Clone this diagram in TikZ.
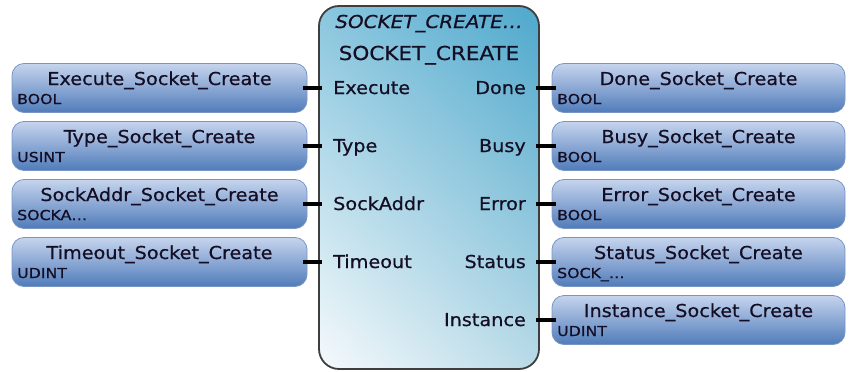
\documentclass[tikz,border=0pt]{standalone}
\usepackage{fontspec}
\setmainfont{DejaVu Sans}
\newfontfamily\namefont[FakeStretch=1.08,FakeBold=0.6]{DejaVu Sans}
\newfontfamily\typefont[FakeStretch=1.15,FakeBold=0.8]{DejaVu Sans}
\newfontfamily\headfont[FakeStretch=1.12,FakeBold=0.6]{DejaVu Sans}
\usetikzlibrary{positioning,shadings}
\definecolor{boxtop}{RGB}{198,212,238}
\definecolor{boxbot}{RGB}{80,124,186}
\definecolor{boxline}{RGB}{120,150,196}
\definecolor{txt}{RGB}{20,14,36}
\definecolor{fbline}{RGB}{62,62,62}

\begin{document}
\begin{tikzpicture}[x=1pt, y=-1pt,
  vbox/.style={draw=boxline, line width=0.8pt, rounded corners=12pt, top color=boxtop, bottom color=boxbot, minimum height=49pt, inner sep=0pt},
  vname/.style={anchor=base, text=txt, inner sep=0pt, font=\namefont\fontsize{17.8}{20}\selectfont},
  vtype/.style={anchor=base west, text=txt, inner sep=0pt, font=\typefont\fontsize{13.7}{15}\selectfont},
  pinl/.style={anchor=base west, text=txt, inner sep=0pt, font=\namefont\fontsize{17.8}{20}\selectfont},
  pinr/.style={anchor=base east, text=txt, inner sep=0pt, font=\namefont\fontsize{17.8}{20}\selectfont},
  wire/.style={line width=3.5pt, shorten <=-4pt, shorten >=-4pt}]
  \useasboundingbox (0,0) rectangle (849,372);

  % function block
  \node[draw=fbline, line width=1.8pt, rounded corners=20pt, minimum width=220pt, minimum height=363pt,
        shading=bilinear interpolation, upper right={rgb,255:red,78;green,168;blue,204},
        upper left={rgb,255:red,138;green,198;blue,222}, lower right={rgb,255:red,184;green,218;blue,231},
        lower left={rgb,255:red,246;green,250;blue,252}] (fb) at (429,187.5) {};
  \node[anchor=base, text=txt, inner sep=0pt, font=\headfont\itshape\fontsize{17.8}{20}\selectfont] (inst) at (429,28) {SOCKET\_CREATE…};
  \node[anchor=base, text=txt, inner sep=0pt, font=\headfont\fontsize{19.2}{22}\selectfont] (kind) at (429,60) {SOCKET\_CREATE};

  % inputs
  \node[vbox, minimum width=295pt] (iExec) at (159.5,88) {};
  \node[vbox, minimum width=295pt] (iType) at (159.5,146) {};
  \node[vbox, minimum width=295pt] (iAddr) at (159.5,204) {};
  \node[vbox, minimum width=295pt] (iTime) at (159.5,262) {};
  \node[vname] (nExec) at (159.5,85) {Execute\_Socket\_Create};
  \node[vname] (nType) at (159.5,143) {Type\_Socket\_Create};
  \node[vname] (nAddr) at (159.5,201) {SockAddr\_Socket\_Create};
  \node[vname] (nTime) at (159.5,259) {Timeout\_Socket\_Create};
  \node[vtype] (tExec) at (17,104) {BOOL};
  \node[vtype] (tType) at (17,162) {USINT};
  \node[vtype] (tAddr) at (17,220) {SOCKA…};
  \node[vtype] (tTime) at (17,278) {UDINT};
  \node[pinl] (pExec) at (333,94) {Execute};
  \node[pinl] (pType) at (333,152) {Type};
  \node[pinl] (pAddr) at (333,210) {SockAddr};
  \node[pinl] (pTime) at (333,268) {Timeout};

  % outputs
  \node[vbox, minimum width=293pt] (oDone) at (698.5,88) {};
  \node[vbox, minimum width=293pt] (oBusy) at (698.5,146) {};
  \node[vbox, minimum width=293pt] (oErr) at (698.5,204) {};
  \node[vbox, minimum width=293pt] (oStat) at (698.5,262) {};
  \node[vbox, minimum width=293pt] (oInst) at (698.5,320) {};
  \node[vname] (nDone) at (698.5,85) {Done\_Socket\_Create};
  \node[vname] (nBusy) at (698.5,143) {Busy\_Socket\_Create};
  \node[vname] (nErr) at (698.5,201) {Error\_Socket\_Create};
  \node[vname] (nStat) at (698.5,259) {Status\_Socket\_Create};
  \node[vname] (nInst) at (698.5,317) {Instance\_Socket\_Create};
  \node[vtype] (tDone) at (557,104) {BOOL};
  \node[vtype] (tBusy) at (557,162) {BOOL};
  \node[vtype] (tErr) at (557,220) {BOOL};
  \node[vtype] (tStat) at (557,278) {SOCK\_…};
  \node[vtype] (tInst) at (557,336) {UDINT};
  \node[pinr] (pDone) at (526,94) {Done};
  \node[pinr] (pBusy) at (526,152) {Busy};
  \node[pinr] (pErr) at (526,210) {Error};
  \node[pinr] (pStat) at (526,268) {Status};
  \node[pinr] (pInst) at (526,326) {Instance};

  % wires
  \draw[wire] (iExec.east) -- (iExec.east -| fb.west);
  \draw[wire] (iType.east) -- (iType.east -| fb.west);
  \draw[wire] (iAddr.east) -- (iAddr.east -| fb.west);
  \draw[wire] (iTime.east) -- (iTime.east -| fb.west);
  \draw[wire] (oDone.west -| fb.east) -- (oDone.west);
  \draw[wire] (oBusy.west -| fb.east) -- (oBusy.west);
  \draw[wire] (oErr.west -| fb.east) -- (oErr.west);
  \draw[wire] (oStat.west -| fb.east) -- (oStat.west);
  \draw[wire] (oInst.west -| fb.east) -- (oInst.west);
\end{tikzpicture}
\end{document}
